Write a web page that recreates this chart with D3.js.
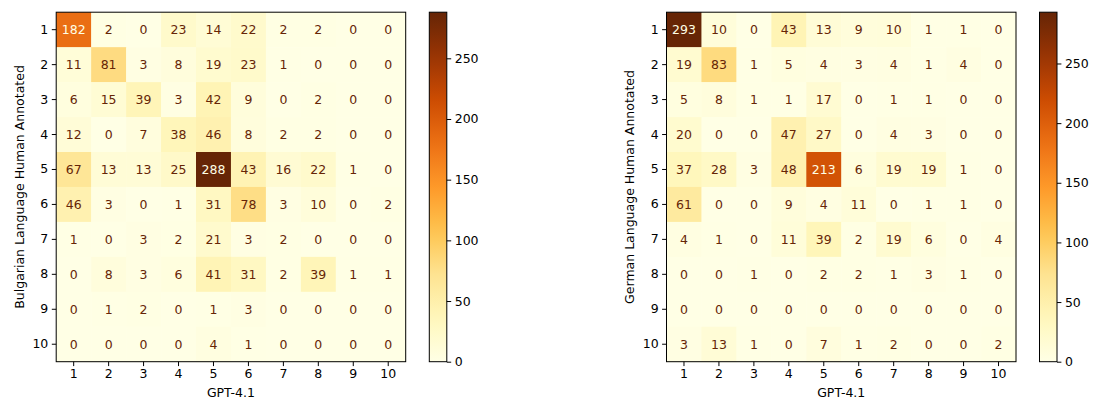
<!DOCTYPE html>
<html>
<head>
<meta charset="utf-8">
<script src="https://cdn.jsdelivr.net/npm/d3@7"></script>
<style>
  html, body { margin: 0; padding: 0; background: #fff; }
  svg { display: block; }
  text { font-family: "DejaVu Sans", sans-serif; }
</style>
</head>
<body>
<svg id="chart" width="1097" height="400"></svg>
<script>
const labels = ["1","2","3","4","5","6","7","8","9","10"];
const xAxisTitle = "GPT-4.1";
const titleBulgarian = "Bulgarian Language Human Annotated";
const titleGerman = "German Language Human Annotated";
const colorbarTicks = [0, 50, 100, 150, 200, 250];

const bulgarian = [
  [182, 2, 0, 23, 14, 22, 2, 2, 0, 0],
  [11, 81, 3, 8, 19, 23, 1, 0, 0, 0],
  [6, 15, 39, 3, 42, 9, 0, 2, 0, 0],
  [12, 0, 7, 38, 46, 8, 2, 2, 0, 0],
  [67, 13, 13, 25, 288, 43, 16, 22, 1, 0],
  [46, 3, 0, 1, 31, 78, 3, 10, 0, 2],
  [1, 0, 3, 2, 21, 3, 2, 0, 0, 0],
  [0, 8, 3, 6, 41, 31, 2, 39, 1, 1],
  [0, 1, 2, 0, 1, 3, 0, 0, 0, 0],
  [0, 0, 0, 0, 4, 1, 0, 0, 0, 0]
];

const german = [
  [293, 10, 0, 43, 13, 9, 10, 1, 1, 0],
  [19, 83, 1, 5, 4, 3, 4, 1, 4, 0],
  [5, 8, 1, 1, 17, 0, 1, 1, 0, 0],
  [20, 0, 0, 47, 27, 0, 4, 3, 0, 0],
  [37, 28, 3, 48, 213, 6, 19, 19, 1, 0],
  [61, 0, 0, 9, 4, 11, 0, 1, 1, 0],
  [4, 1, 0, 11, 39, 2, 19, 6, 0, 4],
  [0, 0, 1, 0, 2, 2, 1, 3, 1, 0],
  [0, 0, 0, 0, 0, 0, 0, 0, 0, 0],
  [3, 13, 1, 0, 7, 1, 2, 0, 0, 2]
];

// matplotlib YlOrBr anchors
const ylorbr = ["#ffffe5","#fff7bc","#fee391","#fec44f","#fe9929","#ec7014","#cc4c02","#993404","#662506"];

const svg = d3.select("#chart");
const FS = 12.5;
const TICK = 4.4;

function drawPanel(matrix, ylabel, left, cbLeft, labelX) {
  const top = 12.2, size = 349.5;
  const flat = matrix.flat();
  const vmin = d3.min(flat), vmax = d3.max(flat);
  const norm = d3.scaleLinear().domain([vmin, vmax]).range([0, 1]);
  const cmap = d3.scaleLinear()
    .domain(ylorbr.map((_, i) => i / (ylorbr.length - 1)))
    .range(ylorbr)
    .interpolate(d3.interpolateRgb);
  const color = v => cmap(norm(v));
  const thresh = (vmin + vmax) / 2;

  const x = d3.scaleBand().domain(labels).range([left, left + size]);
  const y = d3.scaleBand().domain(labels).range([top, top + size]);

  const g = svg.append("g");
  const cells = [];
  matrix.forEach((row, i) => row.forEach((v, j) => cells.push({ r: labels[i], c: labels[j], v })));

  g.selectAll("rect.cell").data(cells).join("rect")
    .attr("class", "cell")
    .attr("x", d => x(d.c)).attr("y", d => y(d.r))
    .attr("width", x.bandwidth() + 0.5).attr("height", y.bandwidth() + 0.5)
    .attr("fill", d => color(d.v));

  g.selectAll("text.val").data(cells).join("text")
    .attr("class", "val")
    .attr("x", d => x(d.c) + x.bandwidth() / 2)
    .attr("y", d => y(d.r) + y.bandwidth() / 2)
    .attr("text-anchor", "middle")
    .attr("dominant-baseline", "central")
    .attr("font-size", FS)
    .attr("fill", d => d.v > thresh ? cmap(0) : cmap(1))
    .text(d => d.v);

  // frame
  g.append("rect").attr("x", left).attr("y", top).attr("width", size).attr("height", size)
    .attr("fill", "none").attr("stroke", "#000").attr("stroke-width", 1);

  const xAxis = g.append("g").attr("transform", `translate(0,${top + size})`)
    .call(d3.axisBottom(x).tickSize(TICK).tickPadding(3.5));
  const yAxis = g.append("g").attr("transform", `translate(${left},0)`)
    .call(d3.axisLeft(y).tickSize(TICK).tickPadding(3.5));
  [xAxis, yAxis].forEach(a => {
    a.select(".domain").remove();
    a.selectAll("text").attr("font-size", FS).attr("font-family", "DejaVu Sans").attr("fill", "#000");
    a.selectAll("line").attr("stroke", "#000");
  });

  g.append("text")
    .attr("x", left + size / 2).attr("y", 397)
    .attr("text-anchor", "middle").attr("font-size", FS).attr("fill", "#000")
    .text(xAxisTitle);

  g.append("text")
    .attr("transform", `translate(${labelX},${top + size / 2}) rotate(-90)`)
    .attr("text-anchor", "middle").attr("dominant-baseline", "central")
    .attr("font-size", FS).attr("fill", "#000")
    .text(ylabel);

  // colorbar
  const cbW = 17.5;
  const cy = d3.scaleLinear().domain([vmin, vmax]).range([top + size, top]);
  const gradId = "grad" + Math.round(left);
  const grad = svg.append("defs").append("linearGradient")
    .attr("id", gradId).attr("x1", 0).attr("y1", 1).attr("x2", 0).attr("y2", 0);
  d3.range(0, 1.0001, 0.05).forEach(t => {
    grad.append("stop").attr("offset", t).attr("stop-color", cmap(t));
  });
  g.append("rect").attr("x", cbLeft).attr("y", top).attr("width", cbW).attr("height", size)
    .attr("fill", `url(#${gradId})`).attr("stroke", "#000").attr("stroke-width", 1);
  const cbAxis = g.append("g").attr("transform", `translate(${cbLeft + cbW},0)`)
    .call(d3.axisRight(cy).tickValues(colorbarTicks).tickSize(TICK).tickPadding(3.5));
  cbAxis.select(".domain").remove();
  cbAxis.selectAll("text").attr("font-size", FS).attr("font-family", "DejaVu Sans").attr("fill", "#000");
  cbAxis.selectAll("line").attr("stroke", "#000");
}

drawPanel(bulgarian, titleBulgarian, 56.2, 429.3, 19);
drawPanel(german, titleGerman, 666.5, 1039.5, 629);
</script>
</body>
</html>
